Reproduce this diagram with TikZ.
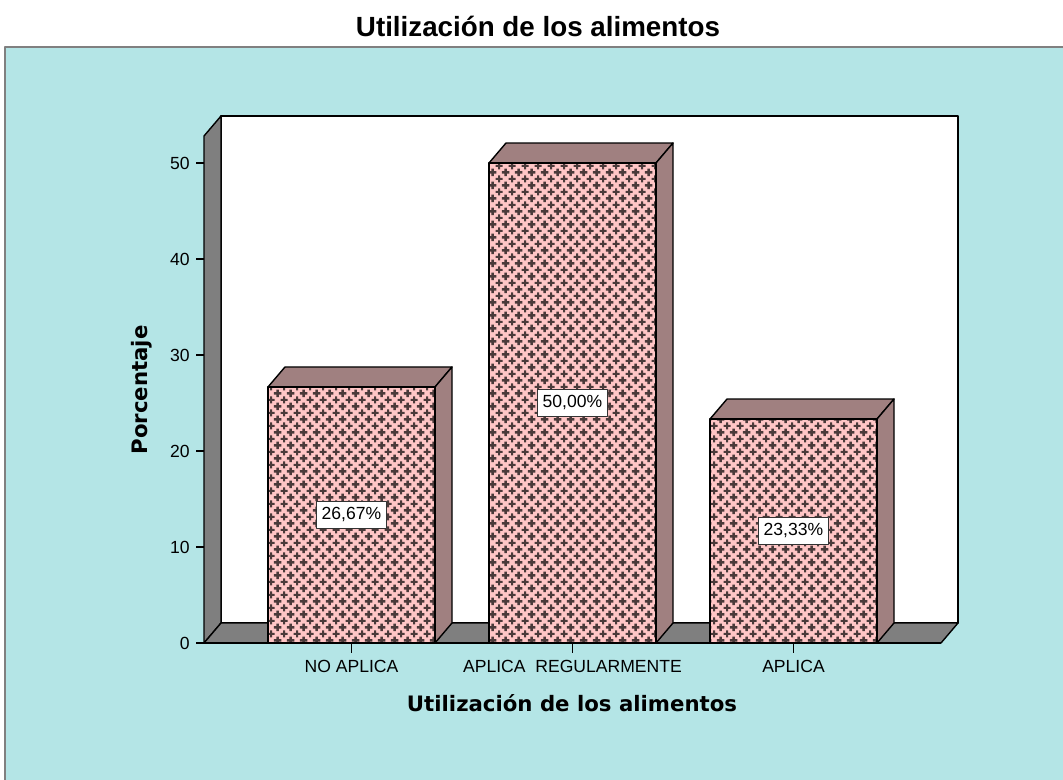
\documentclass[tikz,border=0pt]{standalone}
\usepackage{fontspec}
\setmainfont{Liberation Sans}
\newfontfamily\axisfont{DejaVu Sans}
\usetikzlibrary{patterns}

\definecolor{chartbg}{HTML}{B4E5E6}
\definecolor{wallgrey}{HTML}{7F7F7F}
\definecolor{barpink}{HTML}{FFC6C6}
\definecolor{barshade}{HTML}{A08080}
\definecolor{plusdark}{HTML}{4A3A3A}

% one plus sign of the bar pattern
\newcommand\plusat[2]{%
  \pgfpathrectangle{\pgfpoint{#1-2pt}{#2-0.55pt}}{\pgfpoint{4pt}{1.1pt}}%
  \pgfpathrectangle{\pgfpoint{#1-0.55pt}{#2-2pt}}{\pgfpoint{1.1pt}{4pt}}}
\pgfdeclarepatternformonly{pluses}{\pgfpointorigin}{\pgfqpoint{7.2pt}{7.2pt}}{\pgfqpoint{7.2pt}{7.2pt}}{%
  \plusat{0pt}{0pt}\plusat{7.2pt}{0pt}\plusat{0pt}{7.2pt}\plusat{7.2pt}{7.2pt}%
  \plusat{3.6pt}{3.6pt}%
  \pgfusepath{fill}}

\tikzset{
  frame/.style={draw=black,line width=0.8pt},
  vallabel/.style={draw=black!80,fill=white,line width=0.6pt,inner xsep=3pt,inner ysep=3pt,
    text height=7.5pt,text depth=2pt,font=\fontsize{10pt}{12pt}\selectfont},
  ticklabel/.style={inner sep=0pt,font=\fontsize{10pt}{12pt}\selectfont},
  axistitle/.style={inner sep=0pt,font=\axisfont\bfseries\fontsize{12.1pt}{14pt}\selectfont}
}

\begin{document}
\begin{tikzpicture}[x=0.02cm,y=-0.02cm,line join=round]
        \path[use as bounding box] (0,0) rectangle (1063,779);
        \clip (0,0) rectangle (1063,779);
        \fill[white] (0,0) rectangle (1063,779);
        \draw[draw=gray,line width=1.5pt,fill=chartbg] (5,47) rectangle (1080,800);

        % title
        \node[inner sep=0pt,anchor=base,font=\bfseries\fontsize{15.8pt}{18pt}\selectfont] (title) at (538,36) {Utilización de los alimentos};

        % walls and floor
        \coordinate (fl) at (204,643);
        \coordinate (ft) at (204,136);
        \coordinate (bl) at (221,623);
        \coordinate (bt) at (221,116);
        \coordinate (br) at (958,623);
        \coordinate (bbr) at (958,116);
        \coordinate (fr) at (941,643);

        \draw[frame,fill=white] (bl) rectangle (bbr);
        \draw[frame,fill=wallgrey] (fl)--(ft)--(bt)--(bl)--cycle;
        \draw[frame,fill=wallgrey] (fl)--(bl)--(br)--(fr)--cycle;

        % y axis
        \foreach \v in {0,10,...,50}{
            \draw[frame] (196,{643-9.6*\v}) -- (204,{643-9.6*\v});
            \node[ticklabel,anchor=east] (y\v) at (190,{643-9.6*\v}) {\v};
        }
        \node[axistitle,rotate=90] (ytitle) at (142,390) {Porcentaje};

        % bars
        \foreach \xl/\val/\txt/\lab [count=\i] in {268/26.67/{26,67\%}/{NO APLICA},
                489/50.00/{50,00\%}/{APLICA\ \ REGULARMENTE},
                710/23.33/{23,33\%}/{APLICA}}{
            \pgfmathsetmacro{\yt}{643-9.6*\val}
            \pgfmathsetmacro{\xr}{\xl+167}
            \pgfmathsetmacro{\xm}{\xl+83.5}
            \fill[barpink] (\xl,643) rectangle (\xr,\yt);
            \fill[pattern=pluses,pattern color=plusdark] (\xl,643) rectangle (\xr,\yt);
            \draw[frame,fill=barshade] (\xl,\yt) -- ++(17,-20) -- ++(167,0) -- (\xr,\yt) -- cycle;
            \draw[frame,fill=barshade] (\xr,\yt) -- ++(17,-20) -- ({\xr+17},623) -- (\xr,643) -- cycle;
            \draw[frame] (\xl,643) rectangle (\xr,\yt);
            \node[vallabel] (v\i) at (\xm,{(643+\yt)/2}) {\txt};
            \draw[frame] (\xm,643) -- (\xm,653);
            \node[ticklabel,anchor=base] (c\i) at (\xm,672) {\lab};
        }
        \draw[frame] (fl)--(fr);

        \node[axistitle,anchor=base] (xtitle) at (572,711) {Utilización de los alimentos};
\end{tikzpicture}
\end{document}
